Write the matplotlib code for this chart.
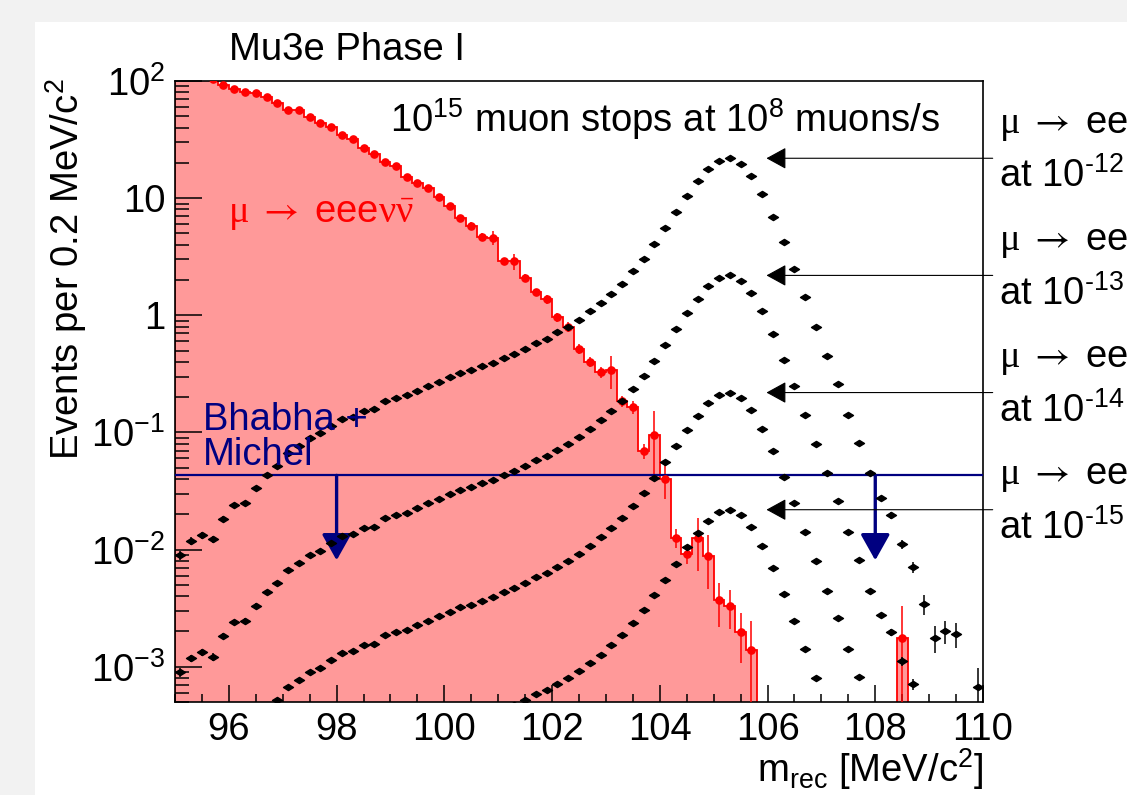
import numpy as np
import matplotlib
matplotlib.use('Agg')
import matplotlib.pyplot as plt
import matplotlib.transforms as mtransforms
from matplotlib.patches import Rectangle
from matplotlib.path import Path
from matplotlib.ticker import FixedLocator, FixedFormatter, LogLocator, MultipleLocator, NullFormatter

plt.rcParams['font.family'] = ['Liberation Sans', 'DejaVu Sans']
plt.rcParams['mathtext.fontset'] = 'custom'
plt.rcParams['mathtext.rm'] = 'Liberation Sans'
plt.rcParams['mathtext.it'] = 'Liberation Sans:italic'
plt.rcParams['mathtext.sf'] = 'Liberation Serif'   # greek letters, Symbol-like
plt.rcParams['mathtext.tt'] = 'STIXGeneral'        # long thin arrow

# 0.2 MeV bins from 95 to 110 MeV
bin_edges = np.arange(95.0, 110.0 + 1e-9, 0.2)
bin_centers = 0.5 * (bin_edges[:-1] + bin_edges[1:])

# internal conversion background mu -> eeenunu (events per bin)
bkg_counts = [140, 125, 112, 103, 92.5, 85, 80, 78.5, 73.5, 65,
              56, 56, 49, 43.6, 40.8, 34.7, 31.8, 26.7, 23.9, 20.5,
              18.9, 15.3, 13.6, 12.1, 10.2, 8.5, 6.75, 5.8, 4.7, 4.6,
              2.88, 2.88, 2.08, 1.57, 1.38, 0.96, 0.80, 0.515, 0.40, 0.326,
              0.343, 0.185, 0.165, 0.069, 0.096, 0.040, 0.0126, 0.0091, 0.0126, 0.0089,
              0.0037, 0.0033, 0.00198, 0.00139, 0, 0, 0, 0, 0, 0,
              0, 0, 0, 0, 0, 0, 0, 0.00177, 0, 0,
              0, 0, 0, 0, 0]
bkg_err = [3, 3, 3, 2.5, 2.5, 2.4, 2.2, 2.2, 2.1, 2.0,
           1.8, 1.8, 1.6, 1.5, 1.4, 1.3, 1.2, 1.1, 1.0, 0.9,
           0.9, 0.8, 0.7, 0.7, 0.6, 0.5, 0.45, 0.4, 0.35, 0.65,
           0.2, 0.45, 0.15, 0.12, 0.12, 0.09, 0.08, 0.05, 0.04, 0.035,
           0.11, 0.02, 0.02, 0.01, 0.055, 0.013, 0.0023, 0.0015, 0.006, 0.0043,
           0.0015, 0.0012, 0.0009, 0.00105, 0, 0, 0, 0, 0, 0,
           0, 0, 0, 0, 0, 0, 0, 0.00155, 0, 0,
           0, 0, 0, 0, 0]

# signal mu -> eee, shape for a branching ratio of 1e-12
signal_br12 = [0.00898, 0.0118, 0.0133, 0.0122, 0.0183, 0.024, 0.0248, 0.0333, 0.0432, 0.0515,
               0.067, 0.0763, 0.090, 0.098, 0.1146, 0.1306, 0.136, 0.152, 0.157, 0.185,
               0.197, 0.207, 0.227, 0.248, 0.27, 0.296, 0.322, 0.339, 0.367, 0.392,
               0.432, 0.468, 0.519, 0.58, 0.628, 0.715, 0.80, 0.917, 1.08, 1.27,
               1.52, 1.85, 2.37, 3.04, 4.08, 5.55, 7.6, 10.5, 13.9, 17.7,
               20.8, 21.9, 19.6, 15.5, 10.8, 6.97, 4.19, 2.48, 1.42, 0.795,
               0.447, 0.26, 0.142, 0.0815, 0.0447, 0.0274, 0.0196, 0.0111, 0.0071, 0.00344,
               0.00177, 0.00202, 0.00189, 0, 0.00067]
signal_err12 = [0.0008, 0.0009, 0.0009, 0.0009, 0.0011, 0.0012, 0.0012, 0.0014, 0.0016, 0.0017,
                0.002, 0.0021, 0.0023, 0.0024, 0.0026, 0.0028, 0.0029, 0.003, 0.0031, 0.0034,
                0.0035, 0.0036, 0.0038, 0.004, 0.0042, 0.0044, 0.0046, 0.0047, 0.0049, 0.005,
                0.0053, 0.0055, 0.0058, 0.0062, 0.0064, 0.0068, 0.0072, 0.0078, 0.0085, 0.0093,
                0.010, 0.011, 0.013, 0.015, 0.017, 0.02, 0.023, 0.027, 0.031, 0.035,
                0.038, 0.039, 0.037, 0.033, 0.027, 0.022, 0.017, 0.013, 0.01, 0.0075,
                0.0056, 0.0043, 0.0032, 0.0024, 0.0018, 0.0014, 0.0012, 0.0009, 0.0008, 0.00065,
                0.00047, 0.00045, 0.00045, 0, 0.0003]
branching_ratios = [1e-12, 1e-13, 1e-14, 1e-15]
br_labels = ['12', '13', '14', '15']

# Bhabha + Michel accidental limit
bhabha_level = 0.043
bhabha_arrow_x = [98, 108]
bhabha_arrow_tip = 0.0081

FS = 27.5
fill_red = '#ff9999'
navy = '#000080'
ARROW = r'\;\mathtt{\rightarrow}\;'

fig = plt.figure(figsize=(11.27, 7.95), dpi=100)
fig.patch.set_facecolor('#f2f2f2')
fig.add_artist(Rectangle((35 / 1127, 0), 1 - 35 / 1127, 1 - 22 / 795,
                         transform=fig.transFigure, facecolor='white',
                         edgecolor='none', zorder=-5))
ax = fig.add_axes([175 / 1127, 1 - 702 / 795, (983 - 175) / 1127, (702 - 81) / 795])
ax.set_yscale('log')
ax.set_xlim(95, 110)
ax.set_ylim(5e-4, 100)
ax.set_axisbelow(False)

# background histogram
bkg = np.array(bkg_counts)
floor = 1e-9
shown = np.where(bkg > 0, bkg, floor)
ax.stairs(shown, bin_edges, baseline=floor, fill=True, facecolor=fill_red,
          edgecolor='none', lw=0, zorder=1)
ax.stairs(shown, bin_edges, baseline=floor, color='red', lw=1.3, zorder=2)
m = bkg > 0
ax.errorbar(bin_centers[m], bkg[m], yerr=np.array(bkg_err)[m], fmt='o', ms=5.2,
            color='red', ecolor='red', elinewidth=1.1, capsize=0, zorder=3)

# Bhabha + Michel line with arrows
ax.axhline(bhabha_level, color=navy, lw=1.6, zorder=3)
for bx in bhabha_arrow_x:
    ax.annotate('', xy=(bx, bhabha_arrow_tip), xytext=(bx, bhabha_level),
                arrowprops=dict(arrowstyle='-|>,head_length=0.8,head_width=0.45',
                                mutation_scale=20, color=navy, lw=2.4,
                                shrinkA=0, shrinkB=0), zorder=3.5)
fig.text(203 / 1127, 1 - 430 / 795, 'Bhabha +', color=navy, fontsize=FS, va='baseline')
fig.text(203 / 1127, 1 - 465 / 795, 'Michel', color=navy, fontsize=FS, va='baseline')

# signal curves
diamond = Path([(-1, 0), (0, 0.62), (1, 0), (0, -0.62), (-1, 0)],
               [Path.MOVETO, Path.LINETO, Path.LINETO, Path.LINETO, Path.CLOSEPOLY])
sig = np.array(signal_br12)
sig_e = np.array(signal_err12)
ms_ = sig > 0
up_text = mtransforms.offset_copy(ax.transData, fig=fig, x=0, y=18.4, units='points')
down_text = mtransforms.offset_copy(ax.transData, fig=fig, x=0, y=-20.9, units='points')
for br, lab in zip(branching_ratios, br_labels):
    scale = br / branching_ratios[0]
    ax.errorbar(bin_centers[ms_], sig[ms_] * scale, yerr=sig_e[ms_] * scale,
                fmt='none', ecolor='black', elinewidth=1.1, capsize=0, zorder=4)
    ax.plot(bin_centers[ms_], sig[ms_] * scale, ls='none', marker=diamond,
            ms=7.2, color='black', zorder=4)
    peak = sig.max() * scale
    ax.annotate('', xy=(105.98, peak), xytext=(110.18, peak),
                arrowprops=dict(arrowstyle='-|>,head_length=0.62,head_width=0.34',
                                mutation_scale=20, color='black', lw=0.8,
                                shrinkA=0, shrinkB=0),
                annotation_clip=False, zorder=5)
    ax.text(110.3, peak, r'$\mathsf{\mu}' + ARROW + r'\mathregular{eee}$', transform=up_text,
            fontsize=FS, va='baseline', ha='left', clip_on=False)
    ax.text(110.3, peak, 'at $\\mathregular{10^{\u2010' + lab + '}}$', transform=down_text,
            fontsize=FS, va='baseline', ha='left', clip_on=False)

# labels
fig.text(228 / 1127, 1 - 223 / 795,
         r'$\mathsf{\mu}' + ARROW + r'\mathregular{eee}\mathsf{\nu\bar{\nu}}$',
         color='red', fontsize=FS, va='baseline')
fig.text(229 / 1127, 1 - 60 / 795, 'Mu3e Phase I', fontsize=FS, va='baseline')
fig.text(390 / 1127, 1 - 131.7 / 795,
         r'$\mathregular{10^{15}}$ muon stops at $\mathregular{10^{8}}$ muons/s',
         fontsize=FS, va='baseline')
fig.text(983 / 1127, 1 - 781.7 / 795, r'$\mathregular{m_{rec}}$ [MeV/$\mathregular{c^{2}}$]',
         fontsize=FS, va='baseline', ha='right')
fig.text(79 / 1127, 1 - 78 / 795, r'Events per 0.2 MeV/$\mathregular{c^{2}}$',
         fontsize=FS, rotation=90, rotation_mode='anchor', ha='right', va='baseline')

# axes styling
ax.xaxis.set_major_locator(MultipleLocator(2))
ax.xaxis.set_minor_locator(MultipleLocator(0.5))
yt = [1e-3, 1e-2, 1e-1, 1, 10, 100]
ytl = [r'$\mathregular{10^{-3}}$', r'$\mathregular{10^{-2}}$', r'$\mathregular{10^{-1}}$',
       '1', '10', r'$\mathregular{10^{2}}$']
ax.yaxis.set_major_locator(FixedLocator(yt))
ax.yaxis.set_major_formatter(FixedFormatter(ytl))
ax.yaxis.set_minor_locator(LogLocator(base=10, subs=np.arange(2, 10)))
ax.yaxis.set_minor_formatter(NullFormatter())
ax.tick_params(axis='x', which='major', direction='in', length=12.2, width=1.1,
               top=False, labelsize=FS, pad=7)
ax.tick_params(axis='x', which='minor', direction='in', length=5.8, width=1.1, top=False)
ax.tick_params(axis='y', which='major', direction='in', length=19.4, width=1.1,
               right=False, labelsize=FS, pad=7)
ax.tick_params(axis='y', which='minor', direction='in', length=10, width=1.1, right=False)
for s in ax.spines.values():
    s.set_linewidth(1.2)

fig.savefig('out.png', dpi=100, facecolor=fig.get_facecolor())
